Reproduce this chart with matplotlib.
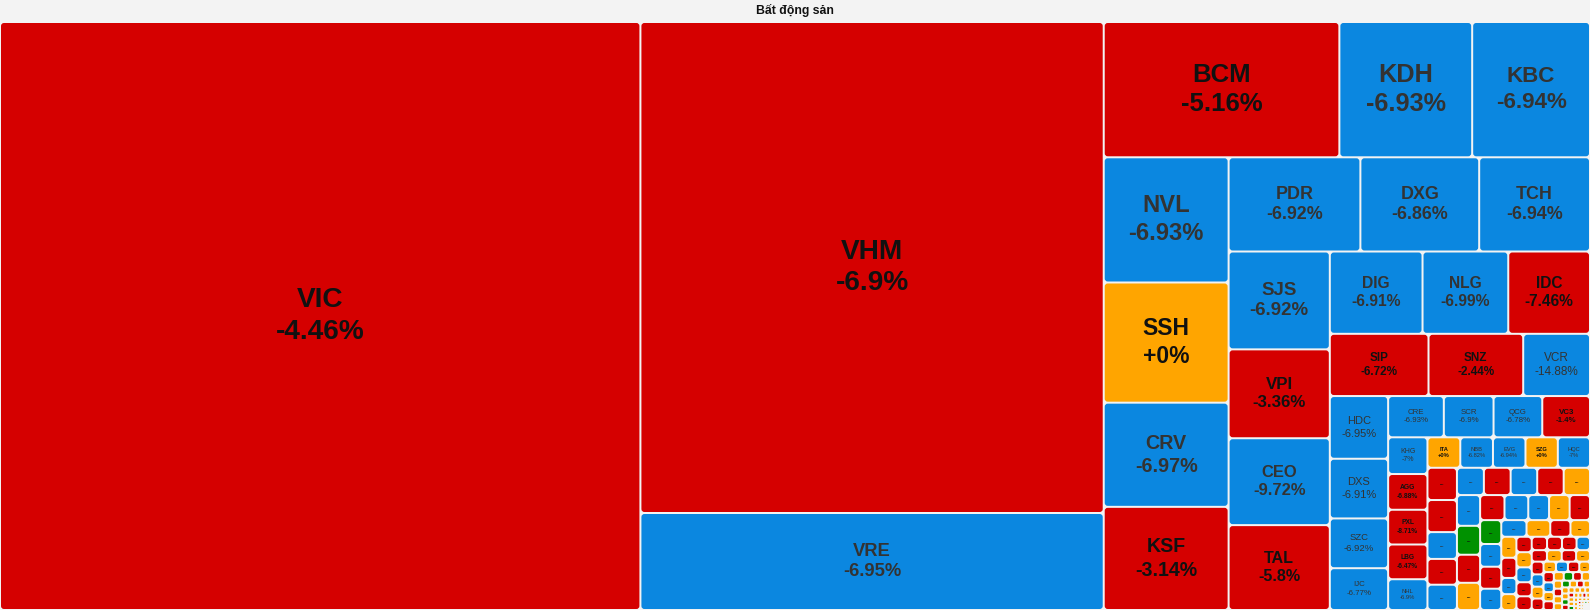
import matplotlib
matplotlib.use("Agg")
import matplotlib.pyplot as plt
from matplotlib.patches import FancyBboxPatch

plt.rcParams['font.family'] = ['Liberation Sans', 'DejaVu Sans']

TITLE = "Bất động sản"

# named cells (ticker, size, % change, status)
tickers = ["VIC", "VHM", "VRE", "BCM", "KDH", "KBC", "NVL", "SSH", "CRV", "KSF",
           "PDR", "DXG", "TCH", "SJS", "VPI", "CEO", "TAL", "DIG", "NLG", "IDC",
           "SIP", "SNZ", "VCR", "HDC", "DXS", "SZC", "IJC", "CRE", "SCR", "QCG",
           "VC3", "KHG", "AGG", "PXL", "LBG", "NHL", "ITA", "NBB", "EVG", "SZG", "HQC"]
sizes = [376320, 227333, 44911, 31860, 17955, 15930, 15625, 15000, 13000, 12875,
         12408, 11186, 10434, 9898, 8989, 8787, 8585, 7626, 7052, 6724,
         6138, 5890, 4154, 3654, 3480, 2900, 2436, 2296, 2050, 2009,
         1968, 1443, 1404, 1365, 1365, 1209, 1000, 995, 990, 985, 980]
changes = [-4.46, -6.9, -6.95, -5.16, -6.93, -6.94, -6.93, 0, -6.97, -3.14,
           -6.92, -6.86, -6.94, -6.92, -3.36, -9.72, -5.8, -6.91, -6.99, -7.46,
           -6.72, -2.44, -14.88, -6.95, -6.91, -6.92, -6.77, -6.93, -6.9, -6.78,
           -1.4, -7, -6.88, -8.71, -6.47, -6.9, 0, -6.82, -6.94, 0, -7]
# d = down (red), f = floor (blue), r = reference (orange), u = up (green)
status = ["d", "d", "f", "d", "f", "f", "f", "r", "f", "d",
          "f", "f", "f", "f", "d", "f", "d", "f", "f", "d",
          "d", "d", "f", "f", "f", "f", "f", "f", "f", "f",
          "d", "f", "d", "d", "d", "f", "r", "f", "f", "r", "f"]

# small cells drawn with "..." or nothing (labels unreadable)
small_sizes = [950, 945, 790, 760, 745, 735, 730, 725, 722, 718, 712,
               670, 650, 630, 610, 595, 520, 515, 510, 505,
               480, 465, 450, 420, 395, 336, 325, 318, 305,
               245, 240, 236, 232, 228, 215, 210, 205, 200, 195,
               180, 175, 170, 165, 160, 150, 145, 140, 135, 130, 125,
               118, 112, 106, 100, 95, 90, 85, 80, 75, 70, 66, 62, 58, 55,
               52, 48, 45, 42, 40, 38, 36, 34, 32, 30,
               28, 26, 25, 24, 23, 22, 21, 20, 19, 18, 17, 16,
               15, 14, 13, 12, 11, 10, 10, 9, 9, 8, 8, 7, 7, 6, 6, 5, 5, 4, 4]
small_status = list("ddfdff" "dfdrf" "udrdf" "frdu" "fdffr" "drrd"
                    "frdrf" "ddddd" "fdrdr" "dfrdrf" "drdfrd" "rudrrdrr"
                    "urdrrrudrr" "rrdrrurrdrrr" "rrrrdrrrurrrrrrrrrr")

COLORS = {"d": "#D50000", "f": "#0B87E0", "r": "#FFA500", "u": "#009100"}
BG = "#F3F3F3"


def aspect(a, b):
    return max(a / b, b / a)


def squarify_layout(values, x, y, w, h):
    total = float(sum(values))
    areas = [v * w * h / total for v in values]
    rects = []
    i = 0
    while i < len(areas):
        vertical = w >= h
        side = h if vertical else w
        group = [areas[i]]
        i += 1
        # keep adding while the last cell of the strip gets squarer
        while i < len(areas):
            last = group[-1]
            t_old = sum(group) / side
            t_new = (sum(group) + areas[i]) / side
            if aspect(t_new, last / t_new) > aspect(t_old, last / t_old):
                break
            group.append(areas[i])
            i += 1
        t = sum(group) / side
        pos = y if vertical else x
        for a in group:
            l = a / t
            if vertical:
                rects.append((x, pos, t, l))
            else:
                rects.append((pos, y, l, t))
            pos += l
        if vertical:
            x += t
            w -= t
        else:
            y += t
            h -= t
    return rects


W, H = 1590, 610
TOP = 22

all_sizes = sizes + small_sizes
all_status = status + small_status
rects = squarify_layout(all_sizes, 0, TOP, W, H - TOP)

fig = plt.figure(figsize=(W / 100, H / 100), dpi=100, facecolor=BG)
ax = fig.add_axes([0, 0, 1, 1])
ax.set_xlim(0, W)
ax.set_ylim(H, 0)
ax.axis('off')
ax.set_facecolor(BG)

gap = 1.0
for k, (x, y, w, h) in enumerate(rects):
    st = all_status[k]
    cw, ch = w - 2 * gap, h - 2 * gap
    if cw <= 0.3 or ch <= 0.3:
        continue
    r = min(3.0, 0.25 * min(cw, ch))
    ax.add_patch(FancyBboxPatch((x + gap, y + gap), cw, ch,
                                boxstyle=f"round,pad=0,rounding_size={r}",
                                facecolor=COLORS[st], edgecolor='none'))
    cx, cy = x + w / 2, y + h / 2
    tcolor = '#333333' if st == 'f' else '#111111'
    if k < len(tickers):
        px = min(28, 0.19 * min(w, h))
        ch_val = changes[k]
        pct = "+0%" if ch_val == 0 else f"{ch_val:g}%"
        weight = 'bold' if (px >= 13 or st != 'f') else 'normal'
        ax.text(cx, cy, f"{tickers[k]}\n{pct}", ha='center', va='center',
                fontsize=px * 0.72, color=tcolor, fontweight=weight, linespacing=1.28)
    elif min(w, h) >= 9:
        ax.text(cx, cy, "...", ha='center', va='center', fontsize=4,
                color=tcolor, fontweight='bold')

ax.text(W / 2, 10, TITLE, ha='center', va='center', fontsize=8.8,
        fontweight='bold', color='#111111')

fig.savefig("out.png", dpi=100, facecolor=BG)
